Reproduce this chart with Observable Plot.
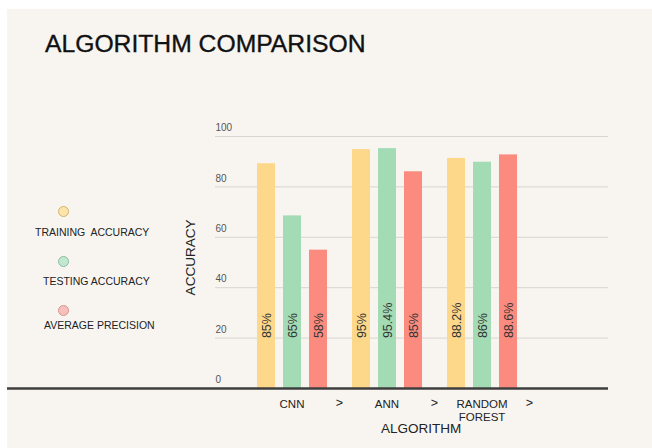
<!DOCTYPE html>
<html><head><meta charset="utf-8">
<script src="https://cdn.jsdelivr.net/npm/d3@7"></script>
<script src="https://cdn.jsdelivr.net/npm/@observablehq/plot@0.6"></script>
<style>
body{margin:0;background:#fff;}
#wrap{position:relative;width:652px;height:448px;overflow:hidden;font-family:"Liberation Sans",Arial,sans-serif;}
#bg{position:absolute;left:7px;top:9px;right:0;bottom:0;background:#f8f5f1;}
#title{position:absolute;left:45px;top:31.7px;font-size:24.7px;line-height:1;color:#111;white-space:nowrap;-webkit-text-stroke:0.35px #111;}
.layer{position:absolute;left:0;top:0;}
.lg{position:absolute;font-size:10.5px;line-height:1;color:#222;white-space:pre;}
.dot{position:absolute;width:11px;height:11px;border-radius:50%;box-sizing:border-box;border:1px solid;}
</style></head>
<body>
<div id="wrap"><div id="bg"></div><div id="title">ALGORITHM COMPARISON</div><div id="legend"></div><div id="grid" class="layer"></div><div id="bars" class="layer"></div></div>
<script>
const algorithms = ["CNN", "ANN", "RANDOM FOREST"];
const series = ["TRAINING ACCURACY", "TESTING ACCURACY", "AVERAGE PRECISION"];
const legendNames = ["TRAINING  ACCURACY", "TESTING ACCURACY", "AVERAGE PRECISION"];
const trainingHeights = [89.2, 94.8, 91.3];
const testingHeights = [68.5, 95.2, 89.8];
const precisionHeights = [54.9, 86.0, 92.7];
const trainingLabels = ["85%", "95%", "88.2%"];
const testingLabels = ["65%", "95.4%", "86%"];
const precisionLabels = ["58%", "85%", "88.6%"];
const yTicks = [0, 20, 40, 60, 80, 100];
const labelStart = 20;

const barColors = ["#fdd88a", "#a3dcb4", "#fb8b7e"];
const dotFills = ["#fde4aa", "#c2e8d0", "#f8c0bb"];
const dotStrokes = ["#d2b274", "#8cbd9e", "#d6948e"];

const heightsBySeries = [trainingHeights, testingHeights, precisionHeights];
const labelsBySeries = [trainingLabels, testingLabels, precisionLabels];
const data = [];
algorithms.forEach((a, i) => series.forEach((s, j) => {
  data.push({algo: a, series: s, value: heightsBySeries[j][i], label: labelsBySeries[j][i]});
}));

const frame = {width: 652, height: 448, marginTop: 136, marginBottom: 60, marginLeft: 215, marginRight: 44};
const font = {background: "transparent", fontFamily: "Liberation Sans, Arial, sans-serif"};

// Layer 1: grid, y tick labels, axis titles
const grid = Plot.plot({
  ...frame, style: font,
  x: {axis: null},
  y: {domain: [0, 100], axis: null},
  marks: [
    Plot.ruleY(yTicks.filter(d => d > 0), {stroke: "#d8d5d0", strokeWidth: 1}),
    Plot.text(yTicks, {y: d => d, text: d => String(d), frameAnchor: "left", textAnchor: "start", dy: -8.5, fontSize: 10, fill: "#555"}),
    Plot.text(["ALGORITHM"], {frameAnchor: "bottom", textAnchor: "middle", dx: 9, dy: 44.5, fontSize: 13.5, fill: "#222"}),
    Plot.text(["ACCURACY"], {frameAnchor: "left", textAnchor: "middle", rotate: -90, dx: -25, dy: -5, fontSize: 13.5, fill: "#222"})
  ]
});
document.getElementById("grid").appendChild(grid);

// Layer 2: grouped bars (faceted by algorithm)
const bars = Plot.plot({
  ...frame, style: font,
  fx: {domain: algorithms, range: [243.5, 530], padding: 0, axis: null},
  x: {domain: series, paddingInner: 0.315, paddingOuter: 0.426, axis: null},
  y: {domain: [0, 100], axis: null},
  color: {domain: series, range: barColors},
  marks: [
    Plot.barY(data, {fx: "algo", x: "series", y: "value", fill: "series"}),
    Plot.text(data, {fx: "algo", x: "series", y: () => labelStart, text: "label", rotate: -90, textAnchor: "start", fontSize: 12.5, fill: "#333"}),
    Plot.axisFx({anchor: "bottom", tickSize: 0, tickPadding: 10, fontSize: 11.5, lineHeight: 1.12, label: null, fill: "#222",
      tickFormat: d => d.replace(" ", "\n")}),
    Plot.text(algorithms, {fx: d => d, text: () => ">", frameAnchor: "bottom-right", textAnchor: "middle", lineAnchor: "top", dy: 10, fontSize: 12.5, fill: "#222"})
  ]
});
document.getElementById("bars").appendChild(bars);

// Layer 3: baseline on top of bars
const base = Plot.plot({
  ...frame, style: font,
  x: {axis: null},
  y: {domain: [0, 100], axis: null},
  marks: [Plot.ruleY([0], {stroke: "#3e3e3e", strokeWidth: 2.5, insetLeft: -208})]
});
base.classList.add("layer");
document.getElementById("wrap").appendChild(base);

const lg = document.getElementById("legend");
const dotY = [211, 261, 310];
const labelTop = [226.6, 275.6, 320.3];
const labelLeft = [35, 43, 44];
series.forEach((s, j) => {
  const d = document.createElement("div");
  d.className = "dot";
  d.style.left = (63.5 - 5.5) + "px";
  d.style.top = (dotY[j] - 5.5) + "px";
  d.style.background = dotFills[j];
  d.style.borderColor = dotStrokes[j];
  lg.appendChild(d);
  const t = document.createElement("div");
  t.className = "lg";
  t.style.left = labelLeft[j] + "px";
  t.style.top = labelTop[j] + "px";
  t.textContent = legendNames[j];
  lg.appendChild(t);
});
</script>
</body></html>
